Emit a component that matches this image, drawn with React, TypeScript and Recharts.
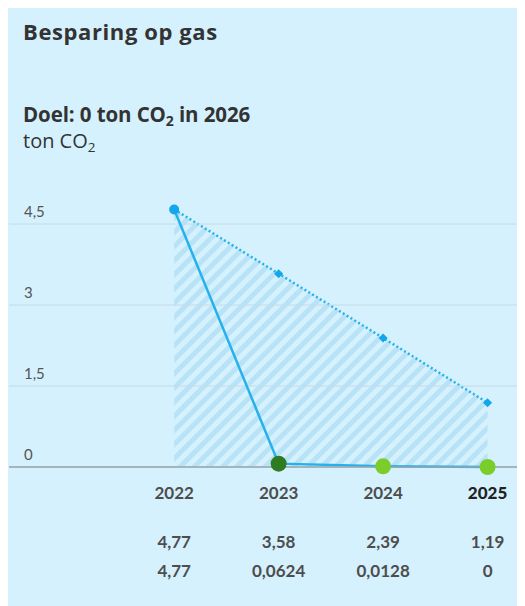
import React from "react";
import { ComposedChart, Area, Line, XAxis, YAxis, ReferenceLine } from "recharts";

const years = [2022, 2023, 2024, 2025];
const targetValues = [4.77, 3.58, 2.39, 1.19];
const actualValues = [4.77, 0.0624, 0.0128, 0];
const targetLabels = ["4,77", "3,58", "2,39", "1,19"];
const actualLabels = ["4,77", "0,0624", "0,0128", "0"];
const yTicks = [0, 1.5, 3, 4.5];
const yTickLabels = ["0", "1,5", "3", "4,5"];

const data = years.map((y, i) => ({ year: y, target: targetValues[i], actual: actualValues[i] }));

const FONT = "Lato, 'Open Sans', sans-serif";
const TITLE_FONT = "'Open Sans', Lato, sans-serif";
const BLUE = "#25b1ee";
const DOT_BLUE = "#12a6ec";
const DARK_GREEN = "#2f7b22";
const LIGHT_GREEN = "#7bcd2b";

const renderYTick = (props: any) => {
  const { y, payload, index } = props;
  const idx = yTicks.indexOf(payload.value);
  return (
    <text key={index} x={16} y={y - 7} fill="#555" fontSize={15} fontFamily={FONT} textAnchor="start">
      {yTickLabels[idx]}
    </text>
  );
};

const renderXTick = (props: any) => {
  const { x, payload, index } = props;
  const idx = years.indexOf(payload.value);
  const last = idx === years.length - 1;
  return (
    <g key={index} fontFamily={FONT} textAnchor="middle" fontSize={17}>
      <text x={x} y={302} fill={last ? "#222" : "#4d4d4d"} fontWeight={last ? 900 : 700}>
        {years[idx]}
      </text>
      <text x={x} y={351} fill="#4d4d4d" fontWeight={700}>
        {targetLabels[idx]}
      </text>
      <text x={x} y={380} fill="#4d4d4d" fontWeight={700}>
        {actualLabels[idx]}
      </text>
    </g>
  );
};

const TargetDot = (props: any) => {
  const { cx, cy, index } = props;
  if (cx == null || cy == null) return null;
  if (index === 0) return <circle key={index} cx={cx} cy={cy} r={5} fill={DOT_BLUE} />;
  const s = 4.5;
  return (
    <path
      key={index}
      d={`M${cx},${cy - s} L${cx + s},${cy} L${cx},${cy + s} L${cx - s},${cy} Z`}
      fill={DOT_BLUE}
    />
  );
};

const ActualDot = (props: any) => {
  const { cx, cy, index } = props;
  if (cx == null || cy == null || index === 0) return null;
  return <circle key={index} cx={cx} cy={cy} r={8} fill={index === 1 ? DARK_GREEN : LIGHT_GREEN} />;
};

const subStyle: React.CSSProperties = { fontSize: 14, verticalAlign: -4, lineHeight: "12px" };

export default function App() {
  return (
    <div
      style={{
        position: "relative",
        width: 517,
        height: 598,
        background: "#d5f1fd",
        fontFamily: FONT,
        color: "#333",
      }}
    >
      <div style={{ position: "absolute", left: 15, top: 12, fontFamily: TITLE_FONT, fontSize: 22, lineHeight: "22px", fontWeight: 700, whiteSpace: "nowrap", letterSpacing: 0.6 }}>
        Besparing op gas
      </div>
      <div style={{ position: "absolute", left: 15, top: 95.5, fontFamily: TITLE_FONT, fontSize: 20.5, lineHeight: "20px", fontWeight: 700, whiteSpace: "nowrap", letterSpacing: -0.1 }}>
        Doel: 0 ton CO<span style={subStyle}>2</span> in 2026
      </div>
      <div style={{ position: "absolute", left: 15, top: 123.2, fontFamily: TITLE_FONT, fontSize: 20, lineHeight: "20px", fontWeight: 400, whiteSpace: "nowrap", letterSpacing: 0 }}>
        ton CO<span style={{ ...subStyle, fontSize: 13.5 }}>2</span>
      </div>
      <div style={{ position: "absolute", left: 0, top: 189 }}>
        <ComposedChart width={517} height={390} data={data} margin={{ top: 0, right: 0, bottom: 0, left: 0 }}>
          <defs>
            <pattern id="hatch" patternUnits="userSpaceOnUse" width={10} height={10} patternTransform="rotate(45)">
              <rect x={0} y={0} width={5} height={10} fill="#b8e3f7" />
            </pattern>
          </defs>
          {yTicks.map((t) => (
            <ReferenceLine key={t} y={t} stroke="#c3dce6" strokeWidth={1} ifOverflow="visible" />
          ))}
          <XAxis
            dataKey="year"
            type="number"
            domain={[2020.4188, 2025.3582]}
            ticks={years}
            height={120}
            axisLine={{ stroke: "#9aa4a8", strokeWidth: 1.5 }}
            tickLine={false}
            tick={renderXTick}
            interval={0}
          />
          <YAxis
            type="number"
            domain={[0, 5]}
            ticks={yTicks}
            width={1}
            axisLine={false}
            tickLine={false}
            tick={renderYTick}
            interval={0}
          />
          <Area
            type="linear"
            dataKey="target"
            stroke={BLUE}
            strokeWidth={2.5}
            strokeDasharray="2 2.5"
            fill="url(#hatch)"
            fillOpacity={1}
            dot={<TargetDot />}
            activeDot={false}
            isAnimationActive={false}
          />
          <Line
            type="linear"
            dataKey="actual"
            stroke={BLUE}
            strokeWidth={2.5}
            dot={<ActualDot />}
            activeDot={false}
            isAnimationActive={false}
          />
        </ComposedChart>
      </div>
    </div>
  );
}
